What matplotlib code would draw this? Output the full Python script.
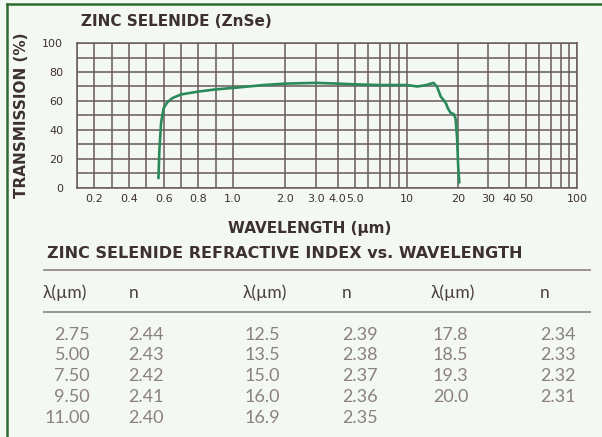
import numpy as np
import matplotlib
matplotlib.use("Agg")
import matplotlib.pyplot as plt
from matplotlib.lines import Line2D

# transmission curve
wavelength = [0.57, 0.575, 0.585, 0.6, 0.62, 0.65, 0.7, 0.8, 0.9, 1.0, 1.5, 2.0,
              3.0, 4.0, 5.0, 7.0, 10.0, 11.5, 13.0, 14.3, 15.0, 15.8, 16.6, 17.0,
              17.4, 18.0, 18.8, 19.3, 19.7, 20.0, 20.3]
transmission = [7, 25, 45, 55, 59, 62, 64.5, 66.5, 68, 69, 71, 72,
                72.5, 72, 71.5, 71, 71, 70, 71, 72.5, 70, 63, 60, 58,
                55, 52, 51, 48, 35, 15, 4]

xtick_vals = [0.2, 0.4, 0.6, 0.8, 1.0, 2.0, 3.0, 4.0, 5.0, 10, 20, 30, 40, 50, 100]
xtick_labels = ["0.2", "0.4", "0.6", "0.8", "1.0", "2.0", "3.0", "4.0", "5.0",
                "10", "20", "30", "40", "50", "100"]
xgrid_vals = ([round(0.1 * i, 1) for i in range(1, 11)] + list(range(2, 11))
              + list(range(20, 101, 10)))
ytick_vals = [0, 20, 40, 60, 80, 100]

# refractive index table
lam_1 = ["2.75", "5.00", "7.50", "9.50", "11.00"]
n_1 = ["2.44", "2.43", "2.42", "2.41", "2.40"]
lam_2 = ["12.5", "13.5", "15.0", "16.0", "16.9"]
n_2 = ["2.39", "2.38", "2.37", "2.36", "2.35"]
lam_3 = ["17.8", "18.5", "19.3", "20.0"]
n_3 = ["2.34", "2.33", "2.32", "2.31"]

W, H = 602, 437
TEXT = "#3d3030"
GRID = "#685a5a"
GREEN = "#2a8a5c"


def fx(x):
    return x / W


def fy(y):
    return 1 - y / H


# chart paper scale: linear 0.1-1, then two log decades of different length
def forward(x):
    x = np.asarray(x, dtype=float)
    xs = np.clip(x, 1e-6, None)
    with np.errstate(all="ignore"):
        lin = (x - 0.1) / 0.9 * 156
        dec1 = 156 + np.log10(xs) * 174
        dec2 = 330 + np.log10(xs / 10) * 170
    return np.where(x <= 1, lin, np.where(x <= 10, dec1, dec2))


def inverse(u):
    u = np.asarray(u, dtype=float)
    with np.errstate(all="ignore"):
        lin = 0.1 + u / 156 * 0.9
        dec1 = 10 ** ((u - 156) / 174)
        dec2 = 10 * 10 ** ((u - 330) / 170)
    return np.where(u <= 156, lin, np.where(u <= 330, dec1, dec2))


fig = plt.figure(figsize=(W / 100, H / 100), dpi=100)
fig.patch.set_facecolor("#f4f8f3")

ax = fig.add_axes([fx(77), fy(188), fx(500), 145 / H])
ax.set_facecolor("#f4f8f3")
ax.set_xscale("function", functions=(forward, inverse))
ax.set_xlim(0.1, 100)
ax.set_ylim(0, 100)

for v in xgrid_vals:
    ax.axvline(v, color=GRID, lw=1.1, zorder=1)
for v in range(0, 101, 10):
    ax.axhline(v, color=GRID, lw=1.1, zorder=1)

ax.plot(wavelength, transmission, color=GREEN, lw=1.9, zorder=3,
        solid_joinstyle="round")

ax.set_xticks(xtick_vals)
ax.set_xticklabels(xtick_labels)
ax.set_xticks([], minor=True)
ax.set_yticks(ytick_vals)
ax.tick_params(length=0, labelsize=8, labelcolor=TEXT)
ax.tick_params(axis="x", pad=4)
ax.tick_params(axis="y", pad=10)
for s in ax.spines.values():
    s.set_color(GRID)
    s.set_linewidth(1.1)

fig.text(fx(81), fy(22), "ZINC SELENIDE (ZnSe)", fontsize=11, fontweight="bold",
         color=TEXT, va="center", ha="left")
fig.text(fx(22), fy(115), "TRANSMISSION (%)", fontsize=11, fontweight="bold",
         color=TEXT, va="center", ha="center", rotation=90)
fig.text(fx(310), fy(228), "WAVELENGTH (µm)", fontsize=11, fontweight="bold",
         color=TEXT, va="center", ha="center")
fig.text(fx(47), fy(254), "ZINC SELENIDE REFRACTIVE INDEX vs. WAVELENGTH",
         fontsize=11.5, fontweight="bold", color=TEXT, va="center", ha="left")

# table rules
for yy in (270, 312):
    fig.add_artist(Line2D([fx(44), fx(590)], [fy(yy), fy(yy)], color="#9c9494",
                          lw=1.4))

for xh, txt in [(43, "λ(µm)"), (129, "n"), (243, "λ(µm)"), (342, "n"),
                (431, "λ(µm)"), (540, "n")]:
    fig.text(fx(xh), fy(293), txt, fontsize=12.5, ha="left", va="center",
             family=["Lato", "DejaVu Sans"], color="#4a3e3e")

row_y = [335, 355, 376, 397, 418]
columns = [(lam_1, 90, "right"), (n_1, 128, "left"), (lam_2, 245, "left"),
           (n_2, 342, "left"), (lam_3, 433, "left"), (n_3, 540, "left")]
for vals, xc, ha in columns:
    for val, yy in zip(vals, row_y):
        fig.text(fx(xc), fy(yy), val, fontsize=13, ha=ha, va="center",
                 family="Lato", color="#8a8080")

# green frame on top and left
fig.add_artist(Line2D([fx(7), fx(7)], [fy(4), 0], color="#2e6b2e", lw=1.8))
fig.add_artist(Line2D([fx(7), 1], [fy(4), fy(4)], color="#2e6b2e", lw=1.8))

fig.savefig("out.png", dpi=100, facecolor=fig.get_facecolor())
